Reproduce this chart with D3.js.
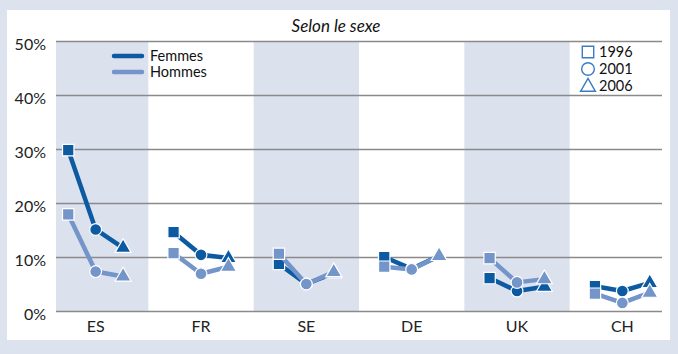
<!DOCTYPE html>
<html><head><meta charset="utf-8">
<script src="https://cdn.jsdelivr.net/npm/d3@7"></script>
<style>
body{margin:0;background:#dde2ef;}
svg{display:block;font-family:Lato, "Open Sans", sans-serif;}
</style></head><body>
<svg id="c" width="678" height="354"></svg>
<script>
const countries = ["ES","FR","SE","DE","UK","CH"];
const years = ["1996","2001","2006"];
const femmes = [[29.8,15.1,11.7],[14.6,10.4,9.8],[8.7,5.0,7.0],[10.0,7.8,10.2],[6.1,3.7,4.5],[4.6,3.7,5.2]];
const hommes = [[17.9,7.3,6.4],[10.7,6.9,8.2],[10.6,5.0,7.2],[8.2,7.7,10.2],[9.8,5.3,5.9],[3.2,1.5,3.4]];
const yTicks = [0,10,20,30,40,50];
const seriesNames = ["Femmes","Hommes"];
const title = "Selon le sexe";

const dark = "#0b5aa2", light = "#7395c9", bandCol = "#dce1ee";
const svg = d3.select("#c");
svg.append("rect").attr("width",678).attr("height",354).attr("fill","#dde2ef");
svg.append("rect").attr("x",7).attr("y",10).attr("width",663).attr("height",330).attr("fill","#fff");

const L = 56, R = 662, T = 41, B = 311;
const x = d3.scaleBand().domain(countries).range([43, 675]);
const xo = d3.scaleBand().domain(years).range([0, x.bandwidth()]).paddingInner(0).paddingOuter(0.42);
const y = d3.scaleLinear().domain([0,50]).range([B, T]);

svg.append("defs").append("clipPath").attr("id","pc").append("rect")
  .attr("x",L).attr("y",T).attr("width",R-L).attr("height",B-T);

const g = svg.append("g");
g.append("g").attr("clip-path","url(#pc)").selectAll("rect").data(countries.filter((d,i)=>i%2===0))
  .join("rect").attr("x",d=>x(d)).attr("y",T).attr("width",x.bandwidth()).attr("height",B-T).attr("fill",bandCol);

const yAxis = d3.axisLeft(y).tickValues(yTicks).tickSize(-(R-L)).tickFormat(d=>d+"%");
const ya = g.append("g").attr("transform",`translate(${L},0)`).call(yAxis);
ya.select(".domain").remove();
ya.selectAll(".tick line").attr("stroke","#8a8a8a").attr("stroke-width",1.3);
ya.selectAll(".tick text").attr("x",-10).attr("dy","0.75em").attr("font-size",16).attr("fill","#222").style("font-family","Lato, sans-serif");
ya.selectAll(".tick text").attr("y",-4);

const xAxis = d3.axisBottom(x).tickSize(0);
const xa = g.append("g").attr("transform",`translate(0,${B})`).call(xAxis);
xa.select(".domain").remove();
xa.selectAll(".tick text").attr("dy","1.05em").attr("y",4).attr("font-size",16).attr("fill","#222").style("font-family","Lato, sans-serif");

const px = (c,j) => x(c) + xo(years[j]) + xo.bandwidth()/2;
const symTypes = [d3.symbolSquare, d3.symbolCircle, d3.symbolTriangle];
const symSizes = [130, 110, 110];

function drawLines(data, col){
  countries.forEach((c,i)=>{
    const line = d3.line().x((v,j)=>px(c,j)).y(v=>y(v));
    g.append("path").datum(data[i]).attr("d",line).attr("fill","none").attr("stroke",col).attr("stroke-width",4.5).attr("stroke-linejoin","round");
  });
}
function drawMarks(data, col){
  countries.forEach((c,i)=>{
    data[i].forEach((v,j)=>{
      g.append("path").attr("d",d3.symbol().type(symTypes[j]).size(symSizes[j])())
        .attr("transform",`translate(${px(c,j)},${y(v)})`)
        .attr("fill",col).attr("stroke","#fff").attr("stroke-width",1.2);
    });
  });
}
drawLines(femmes, dark); drawMarks(femmes, dark);
drawLines(hommes, light); drawMarks(hommes, light);

svg.append("text").attr("x",336).attr("y",32).attr("text-anchor","middle").attr("font-size",17)
  .attr("font-style","italic").attr("fill","#111").text(title);

// series legend
[dark, light].forEach((col,i)=>{
  svg.append("line").attr("x1",114).attr("x2",142).attr("y1",56+i*16).attr("y2",56+i*16)
    .attr("stroke",col).attr("stroke-width",4.5).attr("stroke-linecap","round");
  svg.append("text").attr("x",150).attr("y",56+i*16).attr("dy","0.36em").attr("font-size",14.5).attr("fill","#111").text(seriesNames[i]);
});
// year legend
years.forEach((yr,j)=>{
  svg.append("path").attr("d",d3.symbol().type(symTypes[j]).size([130,125,95][j])())
    .attr("transform",`translate(588,${52+j*17 + (j===2?1:0)})`).attr("fill","none").attr("stroke","#3d7cc2").attr("stroke-width",1.4);
  svg.append("text").attr("x",599).attr("y",52+j*17).attr("dy","0.36em").attr("font-size",14.5).attr("fill","#111").text(yr);
});
</script></body></html>
